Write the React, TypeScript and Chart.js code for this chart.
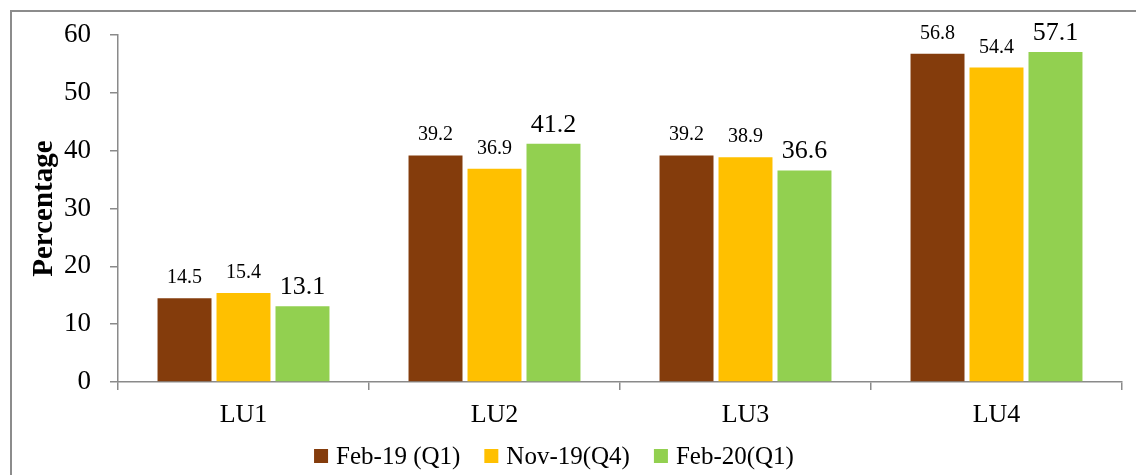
import React, { useEffect, useRef } from 'react';
import { Chart, registerables } from 'chart.js';

Chart.register(...registerables);

const categories = ['LU1', 'LU2', 'LU3', 'LU4'];
const seriesNames = ['Feb-19 (Q1)', 'Nov-19(Q4)', 'Feb-20(Q1)'];
const feb19 = [14.5, 39.2, 39.2, 56.8];
const nov19 = [15.4, 36.9, 38.9, 54.4];
const feb20 = [13.1, 41.2, 36.6, 57.1];
const yMin = 0;
const yMax = 60;
const yStep = 10;
const yTitle = 'Percentage';

const colors = ['#843C0C', '#FFC000', '#92D050'];
const axisColor = '#8a8a8a';
const FONT = '"Liberation Serif", "DejaVu Serif", serif';

const labelPlugin = {
  id: 'barValueLabels',
  afterDatasetsDraw(chart: any) {
    const ctx = chart.ctx;
    chart.data.datasets.forEach((ds: any, i: number) => {
      const meta = chart.getDatasetMeta(i);
      const big = i === 2;
      ctx.save();
      ctx.font = `${big ? 26 : 20}px ${FONT}`;
      ctx.fillStyle = '#000';
      ctx.textAlign = 'center';
      ctx.textBaseline = 'alphabetic';
      meta.data.forEach((el: any, j: number) => {
        const v = ds.data[j] as number;
        ctx.fillText(v.toFixed(1), el.x, el.y - (big ? 12 : 15));
      });
      ctx.restore();
    });
  },
};

// Legend drawn from the chart's own datasets (labels + colours)
const legendPlugin = {
  id: 'bottomLegend',
  afterDraw(chart: any) {
    const ctx = chart.ctx;
    const box = 14;
    const gapText = 8;
    const gapItem = 24;
    const centerX = 554;
    const centerY = 456;
    ctx.save();
    ctx.font = `25px ${FONT}`;
    ctx.textBaseline = 'middle';
    ctx.textAlign = 'left';
    const items = chart.data.datasets.map((ds: any) => ({
      text: ds.label as string,
      color: ds.backgroundColor as string,
      w: ctx.measureText(ds.label).width,
    }));
    const total =
      items.reduce((s: number, it: any) => s + box + gapText + it.w, 0) + gapItem * (items.length - 1);
    let x = centerX - total / 2;
    items.forEach((it: any) => {
      ctx.fillStyle = it.color;
      ctx.fillRect(x, centerY - box / 2, box, box);
      ctx.fillStyle = '#000';
      ctx.fillText(it.text, x + box + gapText, centerY + 1);
      x += box + gapText + it.w + gapItem;
    });
    ctx.restore();
  },
};

export default function App() {
  const canvasRef = useRef<HTMLCanvasElement | null>(null);

  useEffect(() => {
    document.body.style.margin = '0';
    const canvas = canvasRef.current;
    if (!canvas) return;
    const series = [feb19, nov19, feb20];
    const chart = new Chart(canvas, {
      type: 'bar',
      data: {
        labels: categories,
        datasets: series.map((d, i) => ({
          label: seriesNames[i],
          data: d,
          backgroundColor: colors[i],
          borderWidth: 0,
          categoryPercentage: 0.705,
          barPercentage: 0.915,
        })),
      },
      options: {
        responsive: false,
        animation: false,
        devicePixelRatio: 1,
        layout: { padding: { left: 0, right: 14, top: 33, bottom: 0 } },
        plugins: {
          legend: { display: false },
          tooltip: { enabled: false },
        },
        scales: {
          x: {
            offset: true,
            afterFit: (scale: any) => {
              scale.height = 93;
            },
            grid: {
              display: true,
              offset: true,
              drawOnChartArea: false,
              drawTicks: true,
              tickLength: 8,
              color: axisColor,
              lineWidth: 1.5,
            },
            border: { display: true, color: axisColor, width: 1.5 },
            ticks: {
              color: '#000',
              padding: 10,
              font: { family: FONT, size: 26 },
            },
          },
          y: {
            min: yMin,
            max: yMax,
            afterFit: (scale: any) => {
              scale.width = 118;
            },
            grid: {
              display: true,
              drawOnChartArea: false,
              drawTicks: true,
              tickLength: 8,
              color: axisColor,
              lineWidth: 1.5,
            },
            border: { display: true, color: axisColor, width: 1.5 },
            ticks: {
              stepSize: yStep,
              color: '#000',
              padding: 19,
              font: { family: FONT, size: 27 },
            },
            title: {
              display: true,
              text: yTitle,
              color: '#000',
              padding: { top: 27, bottom: 0 },
              font: { family: FONT, size: 29, weight: 'bold' },
            },
          },
        },
      },
      plugins: [labelPlugin, legendPlugin],
    } as any);
    return () => chart.destroy();
  }, []);

  return (
    <div style={{ position: 'relative', width: 1136, height: 475, overflow: 'hidden', background: '#fff' }}>
      <div
        style={{
          position: 'absolute',
          left: 10,
          top: 10,
          width: 1300,
          height: 700,
          borderLeft: '2px solid #8c8c8c',
          borderTop: '2px solid #8c8c8c',
          boxSizing: 'border-box',
        }}
      />
      <canvas
        ref={canvasRef}
        width={1136}
        height={475}
        style={{ position: 'absolute', left: 0, top: 0, width: 1136, height: 475 }}
      />
    </div>
  );
}
